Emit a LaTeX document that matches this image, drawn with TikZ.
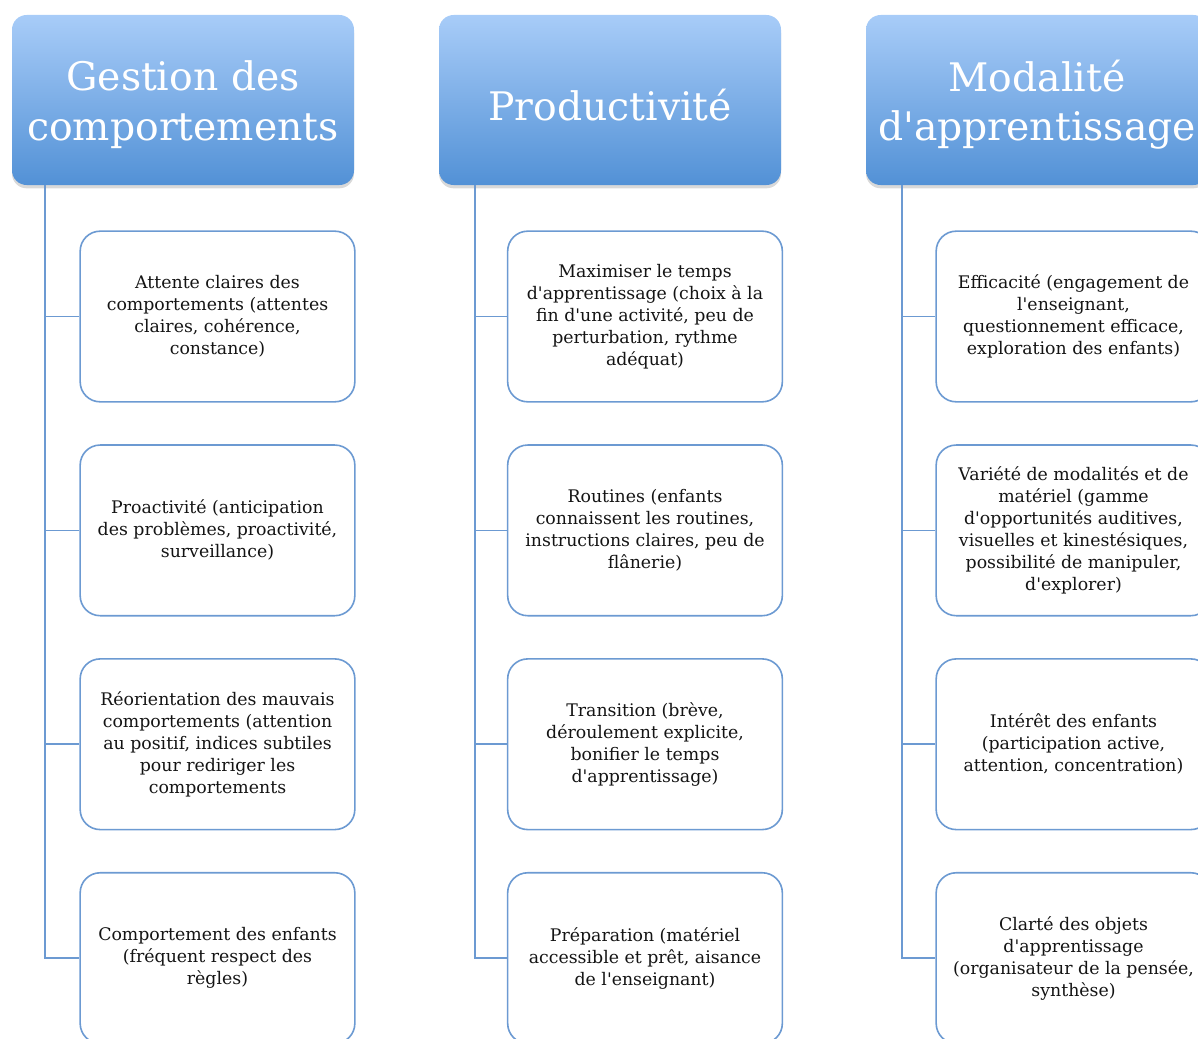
\documentclass[tikz,border=0pt]{standalone}
\usepackage{fontspec}
\setmainfont{DejaVu Serif}[Ligatures=TeXOff]
\usetikzlibrary{positioning,shadows}
\definecolor{headtop}{RGB}{168,204,248}
\definecolor{headbot}{RGB}{82,145,214}
\definecolor{boxline}{RGB}{108,154,210}
\definecolor{textgr}{RGB}{20,20,20}
\newcommand{\hdline}[1]{\raisebox{-3.5pt}[\height][\depth]{#1}}

\begin{document}
\begin{tikzpicture}[x=0.75pt, y=-0.75pt, node distance=31.2pt,
    header/.style={rounded corners=11pt, top color=headtop, bottom color=headbot,
        minimum width=256.5pt, minimum height=127.5pt, inner sep=0pt, align=center,
        text=white, font=\fontsize{29.5}{37}\selectfont,
        drop shadow={opacity=0.3, shadow xshift=0pt, shadow yshift=-2.5pt}},
    item/.style={draw=boxline, line width=1.2pt, rounded corners=15pt, fill=white,
        minimum width=206pt, minimum height=128pt, inner sep=0pt, align=center,
        text=textgr, font=\fontsize{13}{16.5}\selectfont},
    link/.style={draw=boxline, line width=1.3pt}]
    \useasboundingbox (0,0) rectangle (1198,1038);
    \clip (0,0) rectangle (1198,1038);

    % headers
    \node[header] (gestion) at (183,100) {\hdline{Gestion des}\\\hdline{comportements}};
    \node[header] (prod) at (610,100) {\hdline{Productivité}};
    \node[header] (modal) at (1037,100) {\hdline{Modalité}\\\hdline{d'apprentissage}};

    % Gestion des comportements
    \node[item] (g1) at (217.5,316.5) {Attente claires des\\comportements (attentes\\claires, cohérence,\\constance)};
    \node[item, below=of g1] (g2) {Proactivité (anticipation\\des problèmes, proactivité,\\surveillance)};
    \node[item, below=of g2] (g3) {Réorientation des mauvais\\comportements (attention\\au positif, indices subtiles\\pour rediriger les\\comportements};
    \node[item, below=of g3] (g4) {Comportement des enfants\\(fréquent respect des\\règles)};

    % Productivite
    \node[item] (p1) at (645,316.5) {Maximiser le temps\\d'apprentissage (choix à la\\fin d'une activité, peu de\\perturbation, rythme\\adéquat)};
    \node[item, below=of p1] (p2) {Routines (enfants\\connaissent les routines,\\instructions claires, peu de\\flânerie)};
    \node[item, below=of p2] (p3) {Transition (brève,\\déroulement explicite,\\bonifier le temps\\d'apprentissage)};
    \node[item, below=of p3] (p4) {Préparation (matériel\\accessible et prêt, aisance\\de l'enseignant)};

    % Modalite d'apprentissage
    \node[item] (m1) at (1073.5,316.5) {Efficacité (engagement de\\l'enseignant,\\questionnement efficace,\\exploration des enfants)};
    \node[item, below=of m1] (m2) {Variété de modalités et de\\matériel (gamme\\d'opportunités auditives,\\visuelles et kinestésiques,\\possibilité de manipuler,\\d'explorer)};
    \node[item, below=of m2] (m3) {Intérêt des enfants\\(participation active,\\attention, concentration)};
    \node[item, below=of m3] (m4) {Clarté des objets\\d'apprentissage\\(organisateur de la pensée,\\synthèse)};

    % trunks
    \coordinate (gtrunk) at ([xshift=24.75pt]gestion.south west);
    \coordinate (ptrunk) at ([xshift=27pt]prod.south west);
    \coordinate (mtrunk) at ([xshift=27pt]modal.south west);

    \draw[link] (gtrunk) |- (g4.west);
    \draw[link] (g1.west) -- (g1.west -| gtrunk);
    \draw[link] (g2.west) -- (g2.west -| gtrunk);
    \draw[link] (g3.west) -- (g3.west -| gtrunk);

    \draw[link] (ptrunk) |- (p4.west);
    \draw[link] (p1.west) -- (p1.west -| ptrunk);
    \draw[link] (p2.west) -- (p2.west -| ptrunk);
    \draw[link] (p3.west) -- (p3.west -| ptrunk);

    \draw[link] (mtrunk) |- (m4.west);
    \draw[link] (m1.west) -- (m1.west -| mtrunk);
    \draw[link] (m2.west) -- (m2.west -| mtrunk);
    \draw[link] (m3.west) -- (m3.west -| mtrunk);
\end{tikzpicture}
\end{document}
